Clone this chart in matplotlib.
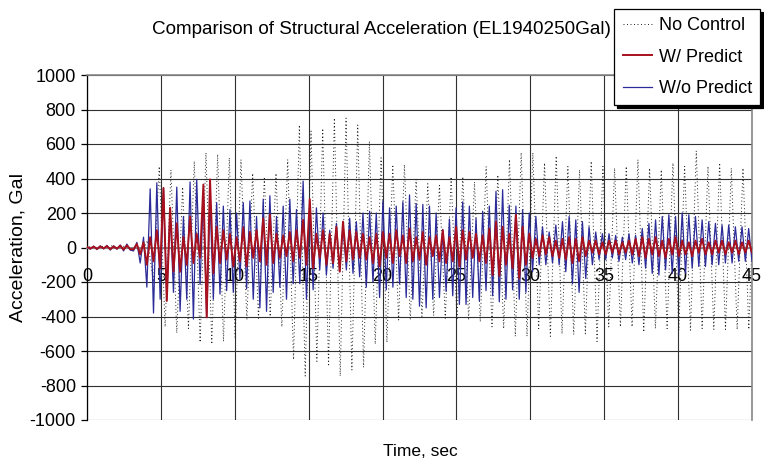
import numpy as np
import matplotlib
matplotlib.use("Agg")
import matplotlib.pyplot as plt

plt.rcParams['font.family'] = ['Liberation Sans', 'DejaVu Sans']
plt.rcParams['axes.unicode_minus'] = False

title = "Comparison of Structural Acceleration (EL1940250Gal)"
x_ticks = [0, 5, 10, 15, 20, 25, 30, 35, 40, 45]
y_ticks = [-1000, -800, -600, -400, -200, 0, 200, 400, 600, 800, 1000]
series_names = ["No Control", "W/ Predict", "W/o Predict"]

# No Control: successive peaks/troughs (Gal), sampled every half period
nc_t0, nc_dt = 0.15, 0.395
no_control = [
    5, -8, 10, -6, 12, -10, 8, -12, 15, -25,
    40, -200, 470, -460, 450, -495, 350, -470, 500, -550,
    550, -560, 540, -545, 520, -520, 510, -420, 430, -410,
    400, -400, 430, -460, 510, -650, 710, -745, 675, -660,
    690, -680, 750, -745, 750, -710, 710, -695, 615, -560,
    520, -550, 480, -420, 480, -420, 395, -400, 370, -395,
    360, -410, 410, -420, 410, -420, 380, -430, 470, -460,
    420, -470, 510, -515, 550, -515, 550, -470, 490, -515,
    530, -500, 470, -505, 450, -500, 500, -545, 470, -460,
    460, -460, 470, -460, 510, -490, 460, -470, 450, -470,
    490, -480, 470, -480, 560, -470, 470, -475, 490, -475,
    460, -475, 460, -475, 450,
]

# controlled cases: peaks/troughs (Gal) on a shared time grid
ctrl_t0, ctrl_dt = 0.0, 0.225
w_predict = [
    3, -6, 5, -8, 6, -5, 8, -10, 6, -6, 10, -12, 12, -10,
    -10, 20, -40, 30, -100, 60, -80, 100, -120, 345,
    -310, 230, -140, 140, -140, 60, -100, 180, -90, 80,
    -60, 365, -405, 395, -150, 120, -90, 100, -70, 80,
    -110, 60, -80, 115, -110, 90, -60, 100, -80, 170,
    -100, 190, -90, 80, -60, 70, -50, 90, -80, 100,
    -60, 160, -100, 280, -120, 80, -60, 100, -100, 80,
    -90, 120, -140, 150, -80, 100, -70, 90, -60, 80,
    -70, 60, -90, 80, -110, 90, -60, 80, -90, 100,
    -50, 70, -90, 110, -80, 60, -70, 90, -100, 60,
    -50, 70, -80, 100, -90, 60, -80, 120, -110, 100,
    -70, 90, -60, 80, -80, 70, -90, 110, -160, 150,
    -165, 120, -100, 80, -120, 190, -180, 120, -100, 80,
    -60, 50, -50, 70, -40, 60, -50, 40, -60, 50,
    -70, 60, -90, 50, -80, 60, -50, 40, -30, 40,
    -40, 30, -40, 40, -30, 40, -40, 30, -30, 40,
    -40, 50, -50, 60, -60, 50, -40, 60, -50, 40,
    -60, 50, -40, 60, -50, 40, -40, 30, -50, 40,
    -30, 50, -40, 30, -40, 40, -30, 40, -40, 30,
    -30, 40, -40, 30, -30, 40, -30, 30,
]
wo_predict = [
    5, -10, 8, -12, 10, -8, 12, -15, 10, -10, 15, -20, 20, -15,
    -20, 30, -90, 60, -230, 340, -380, 375, -300, 345,
    -300, 220, -260, 350, -370, 180, -300, 380, -415, 395,
    -215, 300, -405, 280, -300, 260, -270, 240, -250, 220,
    -260, 200, -185, 260, -240, 270, -300, 180, -350, 280,
    -370, 300, -260, 180, -230, 240, -300, 280, -210, 220,
    -210, 385, -300, 260, -245, 230, -130, 200, -160, 100,
    -120, 140, -140, 130, -130, 170, -150, 150, -170, 200,
    -230, 210, -200, 200, -290, 270, -245, 230, -230, 240,
    -210, 265, -290, 305, -300, 255, -340, 250, -350, 240,
    -300, 200, -290, 105, -255, 165, -280, 230, -330, 265,
    -330, 240, -290, 170, -310, 210, -250, 240, -280, 325,
    -315, 335, -300, 245, -245, 240, -300, 220, -260, 200,
    -140, 180, -100, 120, -100, 90, -90, 130, -100, 150,
    -140, 180, -210, 160, -260, 150, -180, 120, -100, 90,
    -70, 80, -70, 80, -60, 70, -80, 60, -70, 80,
    -90, 70, -100, 110, -120, 140, -150, 160, -160, 180,
    -130, 190, -150, 180, -160, 200, -150, 190, -120, 180,
    -110, 160, -110, 150, -100, 140, -100, 130, -90, 130,
    -90, 120, -80, 120, -80, 110, -80, 90,
]

t_nc = nc_t0 + nc_dt * np.arange(len(no_control))
t_ctrl = ctrl_t0 + ctrl_dt * np.arange(len(wo_predict))

W, H = 764, 462
fig = plt.figure(figsize=(W / 100, H / 100), dpi=100)
ax = fig.add_axes([87 / W, 1 - 420 / H, 665 / W, 345 / H])

ax.plot(t_nc, no_control, color='#202020', lw=0.7, linestyle=(0, (1, 2.6)),
        label=series_names[0], zorder=2)
ax.plot(t_ctrl, wo_predict, color='#2B2B99', lw=0.9,
        label=series_names[2], zorder=3)
ax.plot(t_ctrl, w_predict, color='#A8101E', lw=1.4,
        label=series_names[1], zorder=4)

ax.set_xlim(0, 45)
ax.set_ylim(-1000, 1000)
ax.set_xticks(x_ticks)
ax.set_yticks(y_ticks)
ax.grid(True, color='#303030', lw=0.8)
ax.set_axisbelow(True)

# excel style: category axis crosses at zero
ax.spines['bottom'].set_position(('data', 0))
ax.spines['bottom'].set_color('#888888')
ax.spines['bottom'].set_linewidth(1.4)
for side in ('top', 'right'):
    ax.spines[side].set_color('#888888')
    ax.spines[side].set_linewidth(1.2)
ax.spines['left'].set_color('black')
ax.spines['left'].set_linewidth(0.9)

ax.tick_params(axis='x', length=0, pad=14.5, labelsize=13)
ax.tick_params(axis='y', direction='out', length=4, width=0.9, pad=4, labelsize=13)

fig.text(381 / W, 1 - 30 / H, title, ha='center', va='center', fontsize=13.6)
fig.text(18 / W, 1 - 248 / H, "Acceleration, Gal", rotation=90,
         ha='center', va='center', fontsize=14)
fig.text(420 / W, 1 - 451 / H, "Time, sec", ha='center', va='center', fontsize=12.5)

handles, labels = ax.get_legend_handles_labels()
order = [0, 2, 1]
leg = ax.legend([handles[i] for i in order], [labels[i] for i in order],
                loc='upper right', bbox_to_anchor=(760 / W, 1 - 9 / H),
                bbox_transform=fig.transFigure, borderaxespad=0,
                fontsize=13, frameon=True, fancybox=False,
                shadow={'color': 'black', 'alpha': 1},
                handlelength=1.65, handletextpad=0.35, labelspacing=0.8,
                borderpad=0.45)
leg.get_frame().set_edgecolor('black')
leg.get_frame().set_linewidth(0.9)
leg.set_zorder(10)

fig.savefig("out.png", dpi=100)
